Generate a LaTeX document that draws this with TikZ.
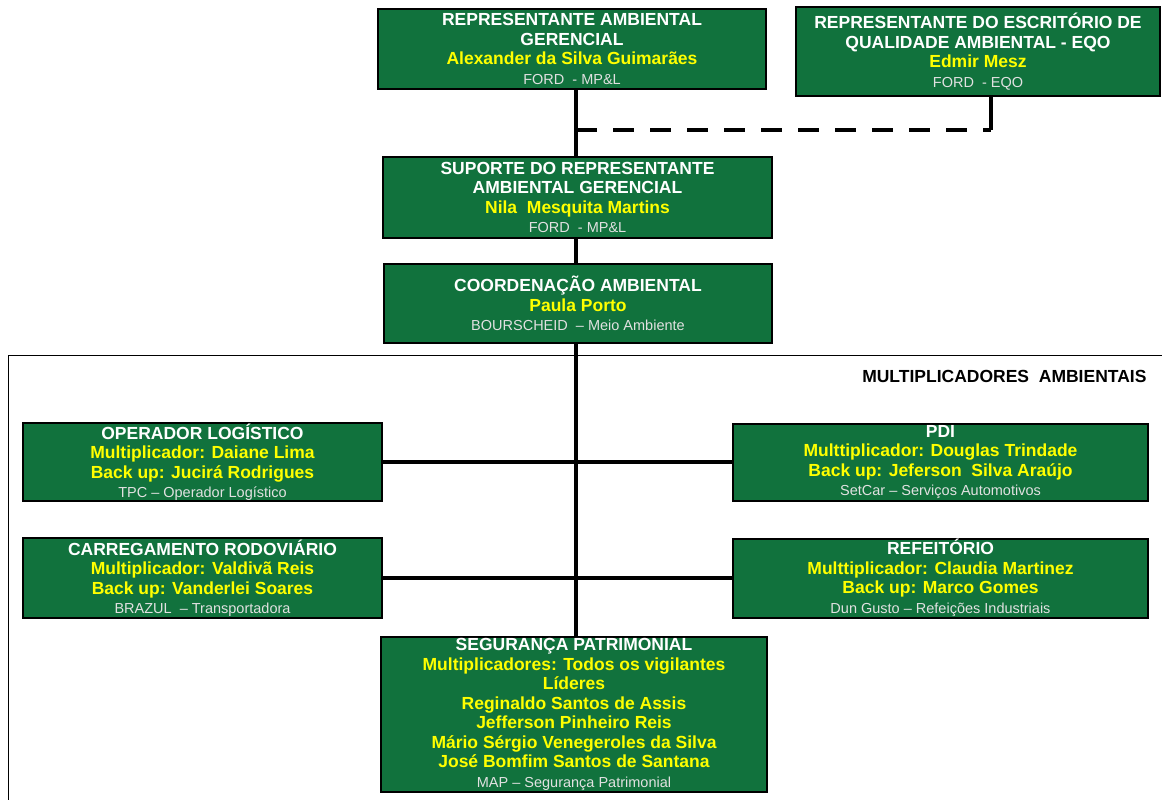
\documentclass[tikz,border=0pt]{standalone}
\usepackage{fontspec}
\setmainfont{Liberation Sans}
\usetikzlibrary{positioning}
\definecolor{orggreen}{RGB}{17,114,61}
\definecolor{nameyellow}{RGB}{255,255,0}
\definecolor{orggray}{RGB}{225,225,225}
\newcommand{\nm}[1]{\textcolor{nameyellow}{#1}}
\newcommand{\org}[1]{{\fontsize{14.5}{18.5}\selectfont\mdseries\color{orggray}#1}}

\begin{document}
\begin{tikzpicture}[
  x=1pt,y=-1pt,
  unit/.style={draw=black,line width=2pt,fill=orggreen,text=white,align=center,
    inner sep=0pt,font=\fontsize{17.5}{19.5}\selectfont\bfseries},
  link/.style={line width=4pt}
]
  \useasboundingbox (0,0) rectangle (1162,800);

  \draw[line width=1pt] (8,355) rectangle (1180,820);
  \node[anchor=east,font=\fontsize{17.5}{19}\selectfont\bfseries] (multi) at (1150,376) {MULTIPLICADORES\ \ AMBIENTAIS};

  \node[unit,minimum width=388,minimum height=80] (rag) at (572,49)
    {REPRESENTANTE AMBIENTAL\\GERENCIAL\\\nm{Alexander da Silva Guimarães}\\\org{FORD\ \ - MP\&L}};
  \node[unit,minimum width=364,minimum height=89] (eqo) at (978,51.5)
    {REPRESENTANTE DO ESCRITÓRIO DE\\QUALIDADE AMBIENTAL - EQO\\\nm{Edmir Mesz}\\\org{FORD\ \ - EQO}};
  \node[unit,minimum width=389,minimum height=81] (suporte) at (577.5,197.5)
    {SUPORTE DO REPRESENTANTE\\AMBIENTAL GERENCIAL\\\nm{Nila\ \ Mesquita Martins}\\\org{FORD\ \ - MP\&L}};
  \node[unit,minimum width=388,minimum height=79] (coord) at (578,303.5)
    {COORDENAÇÃO AMBIENTAL\\\nm{Paula Porto}\\\org{BOURSCHEID\ \ – Meio Ambiente}};

  \node[unit,minimum width=359,minimum height=78] (oplog) at (202.5,462)
    {OPERADOR LOGÍSTICO\\\nm{Multiplicador: Daiane Lima}\\\nm{Back up: Jucirá Rodrigues}\\\org{TPC – Operador Logístico}};
  \node[unit,minimum width=359,minimum height=80] (carreg) at (202.5,578)
    {CARREGAMENTO RODOVIÁRIO\\\nm{Multiplicador: Valdivã Reis}\\\nm{Back up: Vanderlei Soares}\\\org{BRAZUL\ \ – Transportadora}};
  \node[unit,minimum width=415,minimum height=77] (pdi) at (940.5,462)
    {PDI\\\nm{Multtiplicador: Douglas Trindade}\\\nm{Back up: Jeferson\ \ Silva Araújo}\\\org{SetCar – Serviços Automotivos}};
  \node[unit,minimum width=415,minimum height=79] (refeit) at (940.5,578)
    {REFEITÓRIO\\\nm{Multtiplicador: Claudia Martinez}\\\nm{Back up: Marco Gomes}\\\org{Dun Gusto – Refeições Industriais}};
  \node[unit,minimum width=386,minimum height=155] (seg) at (574,714.5)
    {SEGURANÇA PATRIMONIAL\\\nm{Multiplicadores: Todos os vigilantes}\\\nm{Líderes}\\\nm{Reginaldo Santos de Assis}\\
     \nm{Jefferson Pinheiro Reis}\\\nm{Mário Sérgio Venegeroles da Silva}\\\nm{José Bomfim Santos de Santana}\\\org{MAP – Segurança Patrimonial}};

  \coordinate (spine) at (576,0);
  \coordinate (eqoJ) at (991,130);

  \draw[link] (rag.south -| spine) -- (suporte.north -| spine);
  \draw[link] (suporte.south -| spine) -- (coord.north -| spine);
  \draw[link] (coord.south -| spine) -- (seg.north -| spine);
  \draw[link] (oplog.east) -- (pdi.west);
  \draw[link] (carreg.east) -- (refeit.west);
  \draw[link] (eqoJ |- eqo.south) -- (eqoJ);
  \draw[link,dash pattern=on 21pt off 16pt] (eqoJ -| spine) -- (eqoJ);
\end{tikzpicture}
\end{document}
